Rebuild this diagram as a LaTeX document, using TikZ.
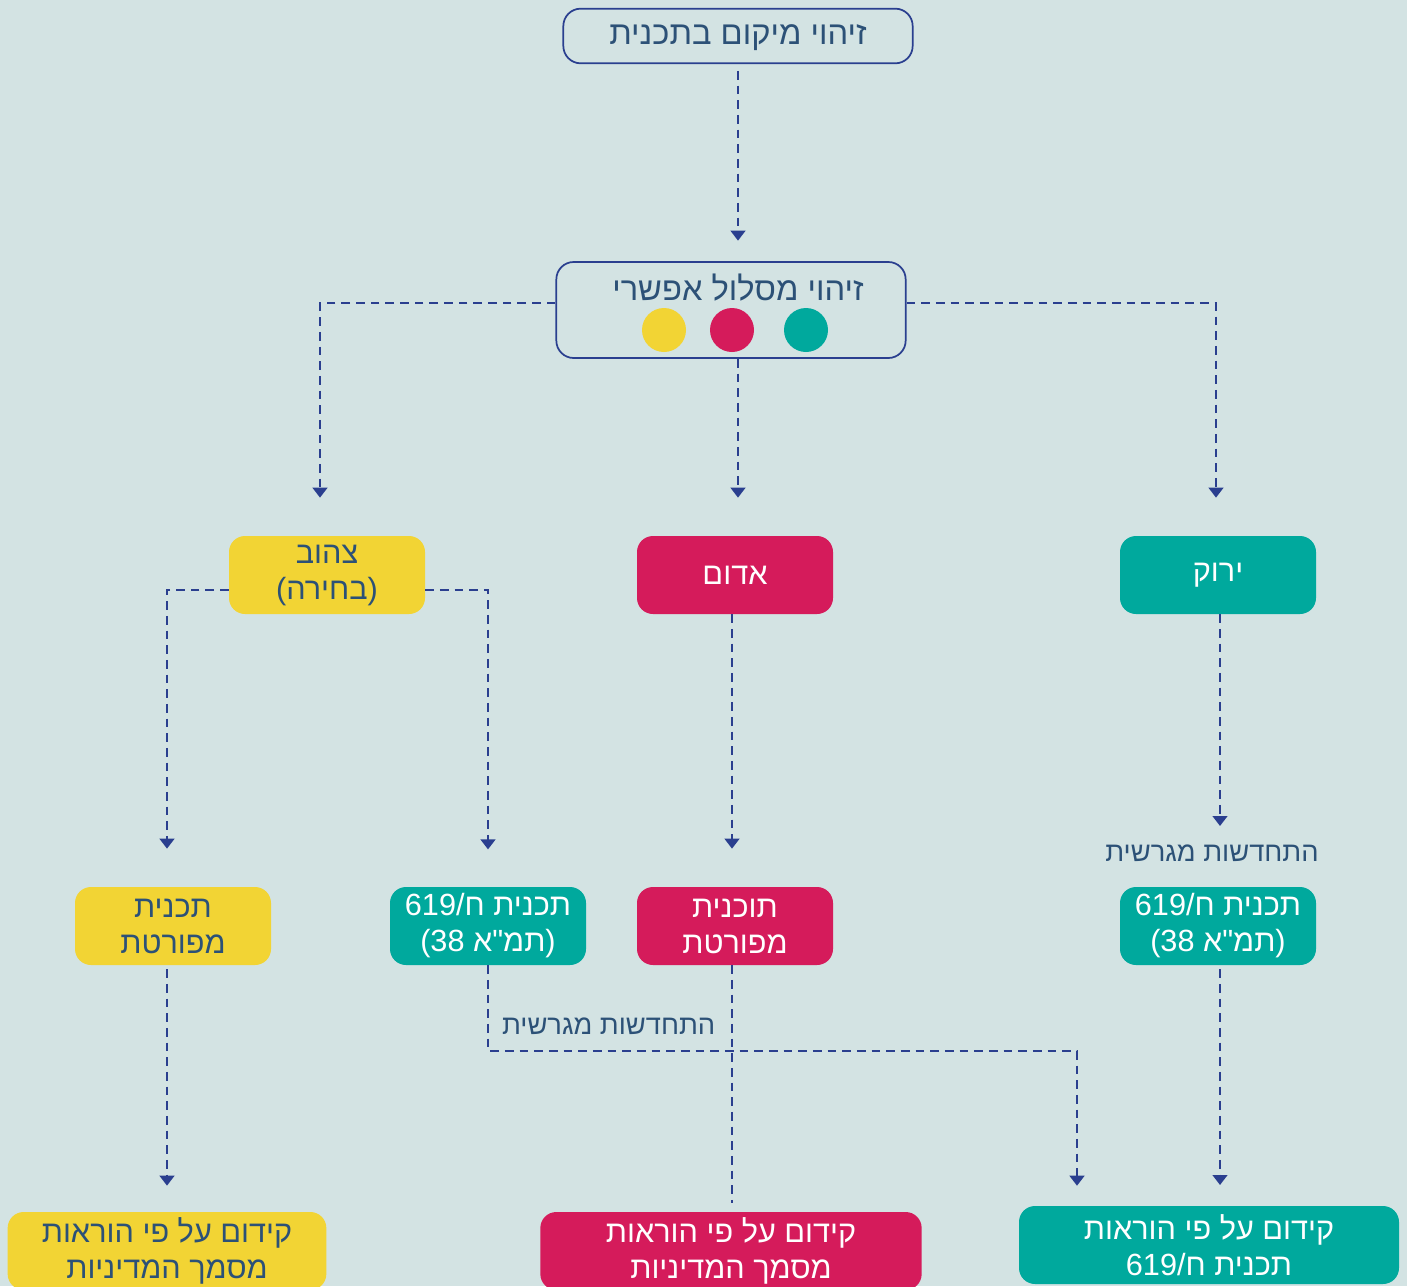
\documentclass[tikz,border=0pt]{standalone}
\usepackage{fontspec}
\usetikzlibrary{arrows.meta}
\TeXXeTstate=1
\newfontfamily\hebfont[Script=Hebrew]{Liberation Sans}
\definecolor{bgc}{HTML}{D3E3E3}
\definecolor{navy}{HTML}{2A3F8F}
\definecolor{ink}{HTML}{2C5177}
\definecolor{yel}{HTML}{F2D434}
\definecolor{rd}{HTML}{D51B5B}
\definecolor{tl}{HTML}{00A99D}
\newcommand\heb[1]{\beginR #1\endR}

\begin{document}
\begin{tikzpicture}[x=0.75pt,y=-0.75pt,
  every node/.style={font=\hebfont\fontsize{23}{27}\selectfont},
  outline/.style={draw=navy,line width=1.3pt,rounded corners=13pt,minimum width=262pt,inner sep=0pt},
  heading/.style={text=ink,font=\hebfont\fontsize{24.5}{28}\selectfont},
  tile/.style={rounded corners=12pt,minimum width=147pt,minimum height=58.5pt,align=center,inner sep=0pt},
  ybox/.style={tile,fill=yel,text=ink},
  rbox/.style={tile,fill=rd,text=white},
  gbox/.style={tile,fill=tl,text=white},
  note/.style={text=ink,font=\hebfont\fontsize{20.5}{24}\selectfont},
  link/.style={draw=navy,line width=1.7pt,dash pattern=on 6.5pt off 4.5pt,-{Triangle[width=11pt,length=7.5pt]}}]

\fill[bgc] (0,0) rectangle (1407,1286);
\useasboundingbox (0,0) rectangle (1407,1286);

% top of the chart
\node[outline,minimum height=41pt] (top) at (738,36) {};
\node[heading] (toptext) at (738,38) {\heb{זיהוי מיקום בתכנית}};
\node[outline,minimum height=72pt] (route) at (731,310) {};
\node[heading] (routetext) at (738,288) {\heb{זיהוי מסלול אפשרי}};
\fill[yel] (664,330) circle (16.5pt);
\fill[rd] (732,330) circle (16.5pt);
\fill[tl] (806,330) circle (16.5pt);

% three routes
\node[ybox] (yellow) at (327,575) {\heb{צהוב}\\\heb{(בחירה)}};
\node[rbox] (red) at (735,575) {\heb{אדום}};
\node[gbox] (green) at (1218,575) {\heb{ירוק}};

% plans
\node[ybox] (yplan) at (173,926) {\heb{תכנית}\\\heb{מפורטת}};
\node[gbox] (ytama) at (488,926) {\heb{תכנית ח/\beginL619\endL}\\\heb{(תמ"א \beginL38\endL)}};
\node[rbox] (rplan) at (735,926) {\heb{תוכנית}\\\heb{מפורטת}};
\node[gbox] (gtama) at (1218,926) {\heb{תכנית ח/\beginL619\endL}\\\heb{(תמ"א \beginL38\endL)}};

\node[note] (gnote) at (1212,853) {\heb{התחדשות מגרשית}};
\node[note,anchor=east] (ynote) at (720,1026) {\heb{התחדשות מגרשית}};

% results
\node[ybox,minimum width=239pt] (ybottom) at (167,1251) {\heb{קידום על פי הוראות}\\\heb{מסמך המדיניות}};
\node[rbox,minimum width=286pt] (rbottom) at (731,1251) {\heb{קידום על פי הוראות}\\\heb{מסמך המדיניות}};
\node[gbox,minimum width=285pt] (gbottom) at (1209,1245) {\heb{קידום על פי הוראות}\\\heb{תכנית ח/\beginL619\endL}};

\coordinate (merge) at (1077,1051);

\draw[link,shorten <=5pt,shorten >=16pt] (top) -- (738,262);
\draw[link,shorten >=28pt] ([yshift=5pt]route.west) -| (320,535);
\draw[link,shorten >=28pt] (route.south -| 738,0) -- (738,535);
\draw[link,shorten >=28pt] ([yshift=5pt]route.east) -| (1216,535);

\draw[link,shorten >=28pt] ([yshift=-11pt]yellow.west) -| (167,886);
\draw[link,shorten >=28pt] ([yshift=-11pt]yellow.east) -| (ytama.north);
\draw[link,shorten >=28pt] (red.south -| 732,0) -- (732,886);
\draw[link,shorten >=45pt] (green.south -| 1220,0) -- (1220,886);

\draw[link,shorten <=3pt,shorten >=19pt] (yplan.south -| 167,0) -- (167,1211);
\draw[link,shorten >=15pt] (ytama.south) |- (merge) -- (merge |- gbottom.north);
\draw[link,-,shorten >=6pt] (rplan.south -| 732,0) -- (732,1211);
\draw[link,shorten <=3pt,shorten >=15pt] (gtama.south -| 1220,0) -- (1220,1205);
\end{tikzpicture}
\end{document}
